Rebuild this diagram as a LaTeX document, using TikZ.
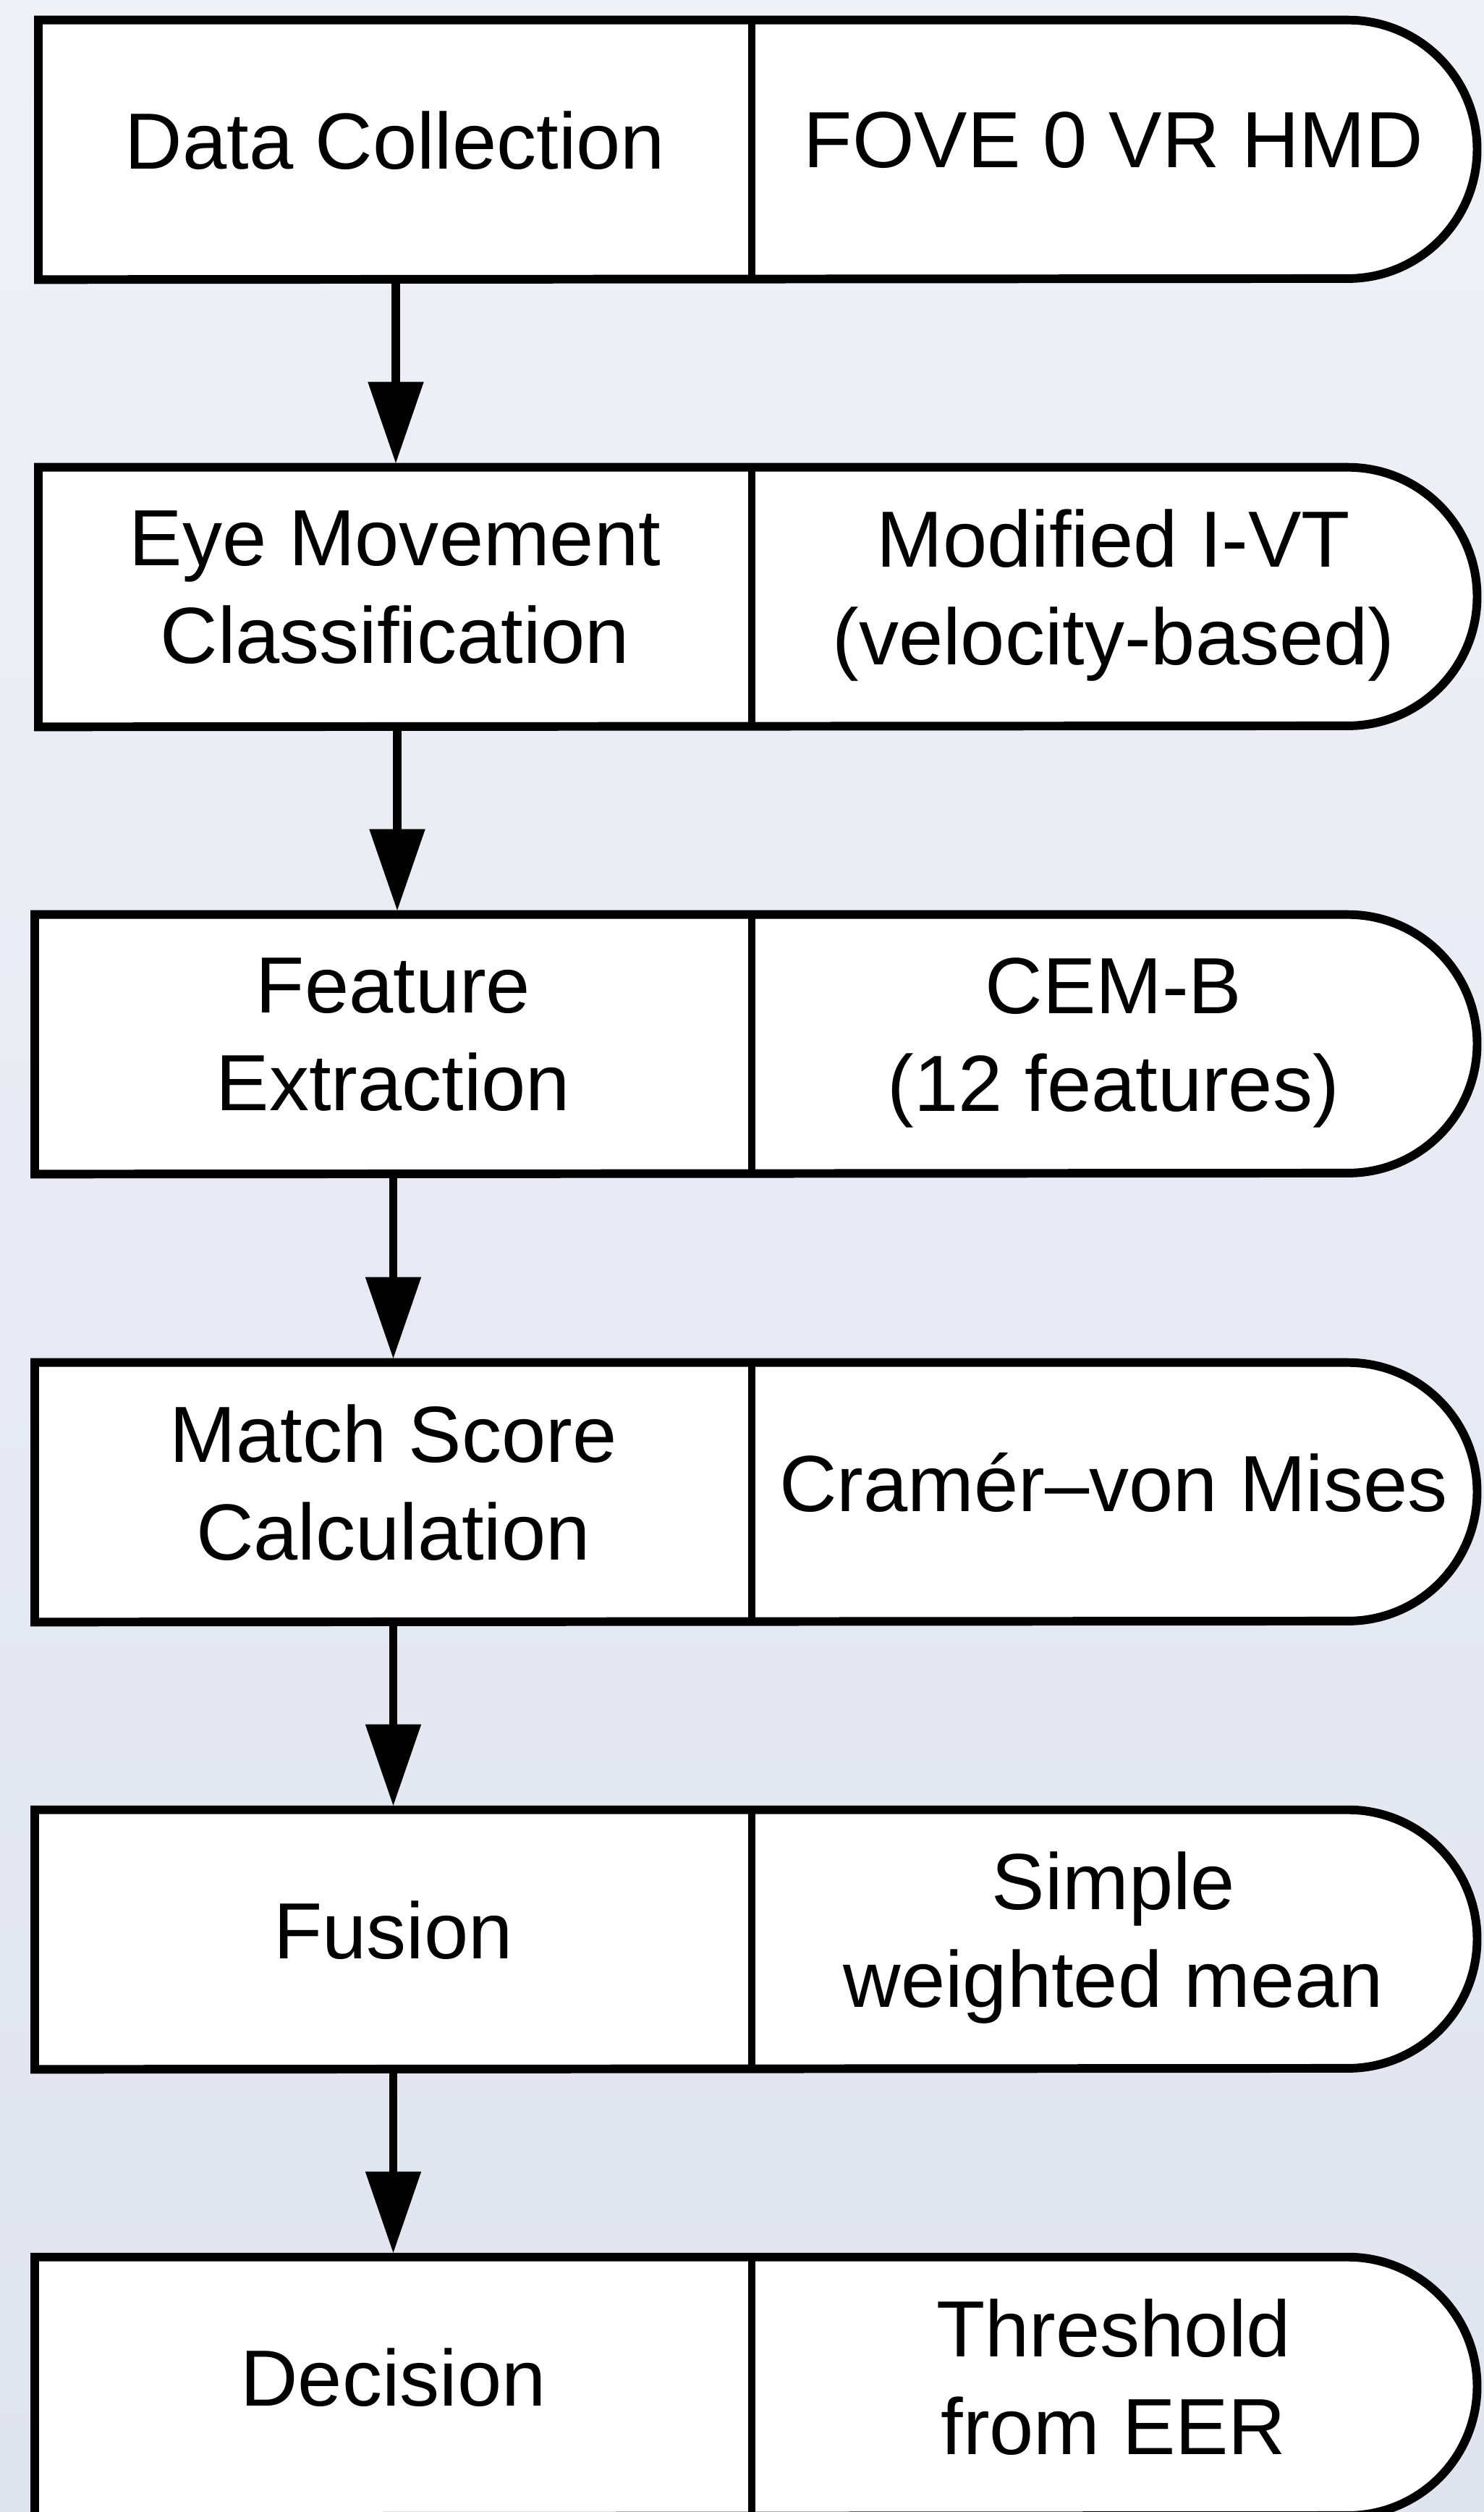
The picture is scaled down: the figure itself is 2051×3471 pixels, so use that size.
\documentclass[tikz,border=0pt]{standalone}
\usepackage{fontspec}
\setmainfont{Liberation Sans}
\usetikzlibrary{arrows.meta}
\definecolor{bgtop}{HTML}{EFF1F7}
\definecolor{bgbot}{HTML}{E0E4EE}
\pgfdeclarelayer{bg}
\pgfdeclarelayer{shapes}
\pgfsetlayers{bg,shapes,main}
\newcommand\mystrut{\rule[-7.8pt]{0pt}{29.8pt}}
\begin{document}
\begin{tikzpicture}[x=0.01cm,y=-0.01cm,
  txt/.style={inner sep=0pt, minimum height=3.57cm, align=center,
    font=\fontsize{31.3}{38.4}\selectfont,
    execute at begin node=\mystrut, execute at end node=\mystrut},
  lpart/.style={txt, minimum width=#1},
  rpart/.style={txt, minimum width=10.02cm},
  outline/.style={draw=black, fill=white, line width=3.4pt, line join=miter},
  divider/.style={draw=black, line width=3.0pt},
  arr/.style={draw=black, line width=3.4pt, shorten >=0.05cm,
    -{Triangle[width=0.74cm, length=1.13cm]}}
]
\begin{pgfonlayer}{bg}
\shade[top color=bgtop, bottom color=bgbot] (0,0) rectangle (2051,3471);
\end{pgfonlayer}
\useasboundingbox (0,0) rectangle (2051,3471);

% stage 1
\node[lpart=9.84cm] (L1) at (546,207) {Data Collection};
\node[rpart] (R1) at (1539,207) {FOVE 0 VR HMD};
% stage 2
\node[lpart=9.84cm] (L2) at (546,825) {Eye Movement\\Classification};
\node[rpart] (R2) at (1539,825) {Modified I-VT\\(velocity-based)};
% stage 3
\node[lpart=9.89cm] (L3) at (543.5,1443) {Feature\\Extraction};
\node[rpart] (R3) at (1539,1443) {CEM-B\\(12 features)};
% stage 4
\node[lpart=9.89cm] (L4) at (543.5,2062) {Match Score\\Calculation};
\node[rpart] (R4) at (1539,2062) {Cramér–von Mises};
% stage 5
\node[lpart=9.89cm] (L5) at (543.5,2680) {Fusion};
\node[rpart] (R5) at (1539,2680) {Simple\\weighted mean};
% stage 6
\node[lpart=9.89cm] (L6) at (543.5,3298) {Decision};
\node[rpart] (R6) at (1539,3298) {Threshold\\from EER};

\begin{pgfonlayer}{shapes}
\foreach \i in {1,...,6}{
  \draw[outline] (L\i.north west) -- ([xshift=-1.78cm]R\i.north east)
     arc[start angle=90, end angle=-90, radius=1.785cm]
     -- (L\i.south west) -- cycle;
  \draw[divider] (L\i.north east) -- (L\i.south east);
}
\end{pgfonlayer}

\draw[arr] ([xshift=0.01cm]L1.south) -- ([xshift=0.01cm]L1.south |- L2.north);
\draw[arr] ([xshift=0.03cm]L2.south) -- ([xshift=0.03cm]L2.south |- L3.north);
\draw[arr] (L3.south) -- (L4.north);
\draw[arr] (L4.south) -- (L5.north);
\draw[arr] (L5.south) -- (L6.north);
\end{tikzpicture}
\end{document}
